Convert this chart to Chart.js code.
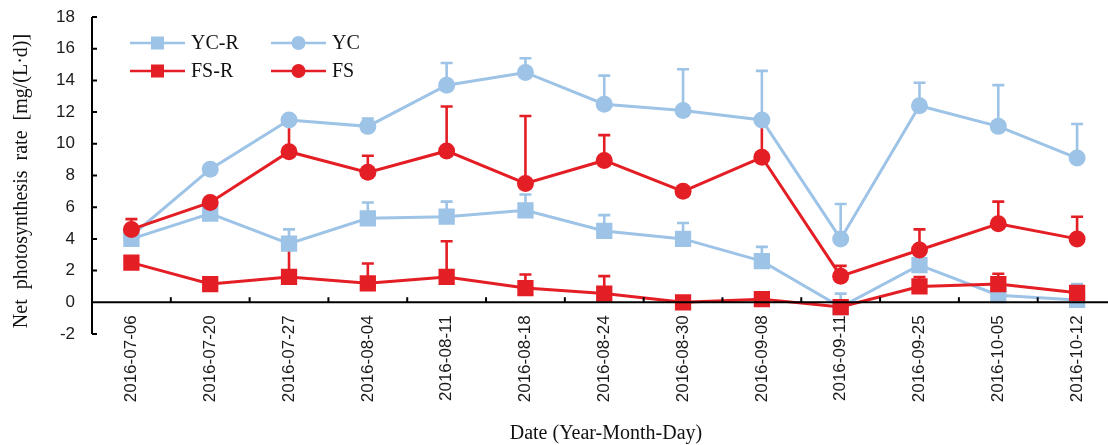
<!DOCTYPE html>
<html>
<head>
<meta charset="utf-8">
<script src="https://cdn.jsdelivr.net/npm/chart.js@4"></script>
<style>
  html, body { margin: 0; padding: 0; background: #fff; overflow: hidden; }
</style>
</head>
<body>
<canvas id="rate" width="1128" height="445"></canvas>
<script>
const dates = ['2016-07-06', '2016-07-20', '2016-07-27', '2016-08-04', '2016-08-11', '2016-08-18', '2016-08-24',
               '2016-08-30', '2016-09-08', '2016-09-11', '2016-09-25', '2016-10-05', '2016-10-12'];

const ycR    = [4.0, 5.6, 3.7, 5.3, 5.4, 5.8, 4.5, 4.0, 2.6, -0.3, 2.35, 0.45, 0.15];
const ycRErr = [0.2, 0.2, 0.9, 1.0, 0.95, 1.0, 1.0, 1.0, 0.9, 0.85, 0.4, 0.4, 1.0];
const yc     = [4.2, 8.4, 11.5, 11.1, 13.7, 14.5, 12.5, 12.1, 11.5, 4.0, 12.4, 11.1, 9.1];
const ycErr  = [0.2, 0.2, 0.2, 0.5, 1.4, 0.9, 1.8, 2.6, 3.1, 2.2, 1.45, 2.6, 2.15];
const fsR    = [2.5, 1.15, 1.6, 1.2, 1.6, 0.9, 0.55, 0.0, 0.2, -0.3, 1.0, 1.15, 0.6];
const fsRErr = [0, 0, 2.0, 1.25, 2.25, 0.85, 1.1, 0, 0, 0, 0.6, 0.65, 0.3];
const fs     = [4.6, 6.3, 9.5, 8.2, 9.55, 7.5, 8.95, 7.0, 9.15, 1.65, 3.3, 4.95, 4.0];
const fsErr  = [0.65, 0.25, 1.9, 1.05, 2.8, 4.25, 1.6, 0, 2.2, 0.65, 1.3, 1.4, 1.4];

const yTicks = { min: -2, max: 18, step: 2 };

const BLUE = '#9DC3E6';
const RED = '#E41E25';

function series(label, data, errors, color, style, order) {
  return {
    label: label,
    data: data,
    errors: errors,
    borderColor: color,
    backgroundColor: color,
    borderWidth: 3,
    pointStyle: style,
    pointRadius: style === 'rect' ? 11.5 : 8.5,
    pointBorderWidth: 0,
    pointHoverRadius: style === 'rect' ? 11.5 : 8.5,
    tension: 0,
    order: order,
  };
}

// upper error bars, drawn underneath every line and marker
const errorBars = {
  id: 'errorBars',
  beforeDatasetsDraw(chart) {
    const { ctx, scales: { x, y } } = chart;
    ctx.save();
    ctx.lineWidth = 2.6;
    ctx.lineCap = 'butt';
    chart.data.datasets.forEach(ds => {
      ctx.strokeStyle = ds.borderColor;
      ds.errors.forEach((e, i) => {
        if (!e) return;
        const px = x.getPixelForValue(i);
        const y0 = y.getPixelForValue(ds.data[i]);
        const y1 = y.getPixelForValue(ds.data[i] + e);
        ctx.beginPath();
        ctx.moveTo(px, y0);
        ctx.lineTo(px, y1);
        ctx.moveTo(px - 6, y1);
        ctx.lineTo(px + 6, y1);
        ctx.stroke();
      });
    });
    ctx.restore();
  }
};

// axis lines with inward tick marks, axis titles and the legend box
const frame = {
  id: 'frame',
  afterDraw(chart) {
    const { ctx, chartArea: area, scales: { x, y } } = chart;
    const zero = y.getPixelForValue(0);
    ctx.save();
    ctx.strokeStyle = '#000';
    ctx.lineWidth = 2;
    ctx.beginPath();
    ctx.moveTo(area.left, area.top);
    ctx.lineTo(area.left, area.bottom);
    ctx.moveTo(area.left, zero);
    ctx.lineTo(area.right, zero);
    y.ticks.forEach(t => {
      const py = y.getPixelForValue(t.value);
      ctx.moveTo(area.left, py);
      ctx.lineTo(area.left + 5, py);
    });
    for (let i = 1; i <= dates.length; i++) {
      const px = x.getPixelForValue(i - 0.5);
      ctx.moveTo(px, zero);
      ctx.lineTo(px, zero - 5);
    }
    ctx.stroke();

    ctx.fillStyle = '#111';
    ctx.font = '20px "Liberation Serif"';
    ctx.textAlign = 'center';
    ctx.textBaseline = 'middle';
    ctx.fillText('Date (Year-Month-Day)', 606, 434);
    ctx.save();
    ctx.translate(22, 181);
    ctx.rotate(-Math.PI / 2);
    ctx.fillText('Net  photosynthesis  rate  [mg/(L\u00B7d)]', 0, 0);
    ctx.restore();

    const items = [
      { label: 'YC-R', color: BLUE, style: 'rect', x: 130, y: 43 },
      { label: 'YC', color: BLUE, style: 'circle', x: 271, y: 43 },
      { label: 'FS-R', color: RED, style: 'rect', x: 130, y: 71 },
      { label: 'FS', color: RED, style: 'circle', x: 271, y: 71 },
    ];
    ctx.textAlign = 'left';
    ctx.font = '20px "Liberation Serif"';
    items.forEach(it => {
      ctx.strokeStyle = it.color;
      ctx.fillStyle = it.color;
      ctx.lineWidth = 2.5;
      ctx.beginPath();
      ctx.moveTo(it.x, it.y);
      ctx.lineTo(it.x + 55, it.y);
      ctx.stroke();
      const cx = it.x + 27.5;
      ctx.beginPath();
      if (it.style === 'rect') {
        ctx.rect(cx - 6.5, it.y - 6.5, 13, 13);
      } else {
        ctx.arc(cx, it.y, 7, 0, Math.PI * 2);
      }
      ctx.fill();
      ctx.fillStyle = '#111';
      ctx.fillText(it.label, it.x + 61, it.y + 1);
    });
    ctx.restore();
  }
};

const config = {
  type: 'line',
  data: {
    labels: dates,
    datasets: [
      series('YC-R', ycR, ycRErr, BLUE, 'rect', 4),
      series('YC', yc, ycErr, BLUE, 'circle', 3),
      series('FS-R', fsR, fsRErr, RED, 'rect', 2),
      series('FS', fs, fsErr, RED, 'circle', 1),
    ],
  },
  options: {
    responsive: false,
    animation: false,
    layout: { padding: { top: 17, left: 0, right: 3, bottom: 111 } },
    plugins: {
      legend: { display: false },
      tooltip: { enabled: false },
    },
    scales: {
      x: {
        position: { y: 0 },
        offset: true,
        grid: { display: false, drawTicks: false },
        border: { display: false },
        ticks: {
          autoSkip: false,
          maxRotation: 90,
          minRotation: 90,
          padding: 13,
          color: '#1a1a1a',
          font: { family: '"Liberation Sans", Arial', size: 17 },
        },
      },
      y: {
        min: yTicks.min,
        max: yTicks.max,
        afterFit(scale) {
          scale.width = 92;
          // the end labels may hang into the page margins
          scale.paddingTop = 0;
          scale.paddingBottom = 0;
        },
        grid: { display: false, drawTicks: false },
        border: { display: false },
        ticks: {
          stepSize: yTicks.step,
          padding: 17,
          color: '#1a1a1a',
          font: { family: '"Liberation Sans", Arial', size: 17 },
        },
      },
    },
  },
  plugins: [errorBars, frame],
};

new Chart(document.getElementById('rate'), config);
</script>
</body>
</html>
